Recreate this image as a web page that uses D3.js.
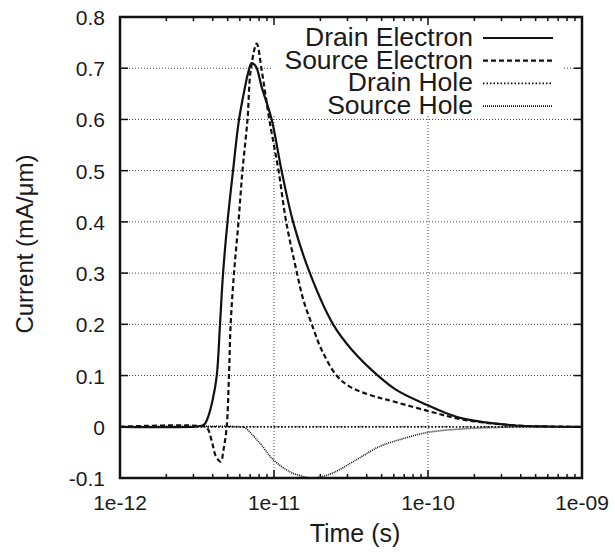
<!DOCTYPE html>
<html>
<head>
<meta charset="utf-8">
<script src="https://cdn.jsdelivr.net/npm/d3@7"></script>
<style>
  html, body { margin: 0; padding: 0; background: #fff; }
  svg { display: block; }
  text { font-family: "Liberation Sans", Arial, Helvetica, sans-serif; fill: #1a1a1a; }
</style>
</head>
<body>
<div id="chart"></div>
<script>
// Time in seconds, current in mA/um
const DRAIN_E_T = [1e-12, 3.07e-12, 3.39e-12, 3.56e-12, 3.74e-12, 4.0e-12, 4.25e-12, 4.46e-12, 4.67e-12, 4.99e-12,
  5.42e-12, 5.93e-12, 6.48e-12, 6.78e-12, 7.16e-12, 7.64e-12, 8.32e-12, 9.66e-12, 1.12e-11, 1.33e-11,
  1.71e-11, 2.42e-11, 3.21e-11, 4.73e-11, 6.38e-11, 9.95e-11, 1.3e-10, 1.69e-10, 3.56e-10, 6.2e-10, 1e-9];
const DRAIN_E_V = [0, 0, 0.002, 0.006, 0.02, 0.053, 0.1, 0.2, 0.3, 0.4,
  0.5, 0.6, 0.663, 0.69, 0.71, 0.703, 0.663, 0.6, 0.5, 0.4,
  0.3, 0.2, 0.15, 0.1, 0.07, 0.042, 0.027, 0.016, 0.003, 0.0005, 0];

const SOURCE_E_T = [1e-12, 3.56e-12, 3.73e-12, 3.96e-12, 4.2e-12, 4.51e-12, 4.7e-12, 4.93e-12, 5.1e-12, 5.23e-12,
  5.5e-12, 5.88e-12, 6.24e-12, 6.73e-12, 7.06e-12, 7.72e-12, 8.32e-12, 9.32e-12, 1.07e-11, 1.2e-11,
  1.41e-11, 1.55e-11, 1.76e-11, 2.04e-11, 2.55e-11, 3.12e-11, 4.4e-11, 5.39e-11, 9.95e-11, 1.69e-10,
  3.56e-10, 6.2e-10, 1e-9];
const SOURCE_E_V = [0, 0, -0.005, -0.03, -0.058, -0.068, -0.045, 0, 0.1, 0.2,
  0.3, 0.4, 0.5, 0.6, 0.696, 0.748, 0.696, 0.6, 0.5, 0.4,
  0.3, 0.248, 0.2, 0.15, 0.1, 0.078, 0.06, 0.053, 0.031, 0.014,
  0.003, 0.0005, 0];

const DRAIN_H_T = [1e-12, 1e-11, 1e-10, 1e-9];
const DRAIN_H_V = [0, 0, 0, 0];

const SOURCE_H_T = [1e-12, 6.01e-12, 6.48e-12, 7.2e-12, 8.36e-12, 9.86e-12, 1.27e-11, 1.54e-11, 1.77e-11, 1.99e-11,
  2.42e-11, 3.36e-11, 4.88e-11, 6.58e-11, 9.95e-11, 1.69e-10, 2.94e-10, 4.6e-10, 1e-9];
const SOURCE_H_V = [0, 0, -0.002, -0.015, -0.037, -0.064, -0.088, -0.097, -0.1, -0.098,
  -0.09, -0.066, -0.038, -0.025, -0.011, -0.004, -0.001, 0, 0];

const SERIES_NAMES = ["Drain Electron", "Source Electron", "Drain Hole", "Source Hole"];
const X_TICKS = [1e-12, 1e-11, 1e-10, 1e-9];
const X_TICK_LABELS = ["1e-12", "1e-11", "1e-10", "1e-09"];
const Y_TICKS = [-0.1, 0, 0.1, 0.2, 0.3, 0.4, 0.5, 0.6, 0.7, 0.8];
const Y_TICK_LABELS = ["-0.1", "0", "0.1", "0.2", "0.3", "0.4", "0.5", "0.6", "0.7", "0.8"];

const W = 615, H = 552;
const plotL = 120, plotR = 582, plotT = 17, plotB = 478;

const x = d3.scaleLog().domain([1e-12, 1e-9]).range([plotL, plotR]);
const y = d3.scaleLinear().domain([-0.1, 0.8]).range([plotB, plotT]);

const svg = d3.select("#chart").append("svg")
  .attr("width", W).attr("height", H);

const series = [
  { name: SERIES_NAMES[0], t: DRAIN_E_T, v: DRAIN_E_V, dash: null, width: 2.2 },
  { name: SERIES_NAMES[1], t: SOURCE_E_T, v: SOURCE_E_V, dash: "5,3", width: 2.2 },
  { name: SERIES_NAMES[2], t: DRAIN_H_T, v: DRAIN_H_V, dash: "1.5,2", width: 1.8 },
  { name: SERIES_NAMES[3], t: SOURCE_H_T, v: SOURCE_H_V, dash: "1,1", width: 1.6 },
];

// grid
const grid = svg.append("g").attr("stroke", "#444").attr("stroke-width", 1)
  .attr("stroke-dasharray", "1,2");
Y_TICKS.forEach((v) => {
  grid.append("line").attr("x1", plotL).attr("x2", plotR)
    .attr("y1", y(v)).attr("y2", y(v));
});
X_TICKS.forEach((t) => {
  grid.append("line").attr("x1", x(t)).attr("x2", x(t))
    .attr("y1", plotT).attr("y2", plotB);
});

// curves
const line = d3.line()
  .x((d) => x(d[0]))
  .y((d) => y(d[1]))
  .curve(d3.curveCatmullRom.alpha(0.5));

const curves = svg.append("g").attr("fill", "none");
series.forEach((s) => {
  curves.append("path")
    .datum(s.t.map((t, i) => [t, s.v[i]]))
    .attr("d", line)
    .attr("stroke", "#111")
    .attr("stroke-width", s.width)
    .attr("stroke-dasharray", s.dash);
});

// key box (opaque) and entries
const key = svg.append("g");
key.append("rect").attr("x", 272).attr("y", plotT + 1.5)
  .attr("width", 292).attr("height", 96).attr("fill", "#fff");
series.forEach((s, i) => {
  const cy = 37 + i * 22.7;
  key.append("text").attr("x", 473).attr("y", cy + 9)
    .attr("text-anchor", "end").attr("font-size", 26.5)
    .text(s.name);
  key.append("line").attr("x1", 483).attr("x2", 553)
    .attr("y1", cy + 1).attr("y2", cy + 1)
    .attr("stroke", "#111").attr("stroke-width", s.width)
    .attr("stroke-dasharray", s.dash);
});

// ticks
const ticks = svg.append("g").attr("stroke", "#111").attr("stroke-width", 1.5);
Y_TICKS.forEach((v) => {
  ticks.append("line").attr("x1", plotL).attr("x2", plotL + 8).attr("y1", y(v)).attr("y2", y(v));
  ticks.append("line").attr("x1", plotR).attr("x2", plotR - 8).attr("y1", y(v)).attr("y2", y(v));
});
const minor = [];
for (let k = -12; k < -9; k++) {
  for (let m = 2; m <= 9; m++) minor.push(m * Math.pow(10, k));
}
X_TICKS.forEach((t) => {
  ticks.append("line").attr("x1", x(t)).attr("x2", x(t)).attr("y1", plotB).attr("y2", plotB - 8);
  ticks.append("line").attr("x1", x(t)).attr("x2", x(t)).attr("y1", plotT).attr("y2", plotT + 8);
});
minor.forEach((t) => {
  ticks.append("line").attr("x1", x(t)).attr("x2", x(t)).attr("y1", plotB).attr("y2", plotB - 4);
  ticks.append("line").attr("x1", x(t)).attr("x2", x(t)).attr("y1", plotT).attr("y2", plotT + 4);
});

// frame
svg.append("rect").attr("x", plotL).attr("y", plotT)
  .attr("width", plotR - plotL).attr("height", plotB - plotT)
  .attr("fill", "none").attr("stroke", "#111").attr("stroke-width", 2.5);

// tick labels
svg.append("g").selectAll("text").data(Y_TICKS).join("text")
  .attr("x", 105).attr("y", (d) => y(d) + 8)
  .attr("text-anchor", "end").attr("font-size", 21)
  .text((d, i) => Y_TICK_LABELS[i]);

svg.append("g").selectAll("text").data(X_TICKS).join("text")
  .attr("x", (d) => x(d)).attr("y", 510)
  .attr("text-anchor", "middle").attr("font-size", 21)
  .text((d, i) => X_TICK_LABELS[i]);

// axis titles
svg.append("text").attr("x", 355).attr("y", 542)
  .attr("text-anchor", "middle").attr("font-size", 25)
  .text("Time (s)");
svg.append("text")
  .attr("transform", "translate(33,244) rotate(-90)")
  .attr("text-anchor", "middle").attr("font-size", 24)
  .text("Current (mA/μm)");
</script>
</body>
</html>
